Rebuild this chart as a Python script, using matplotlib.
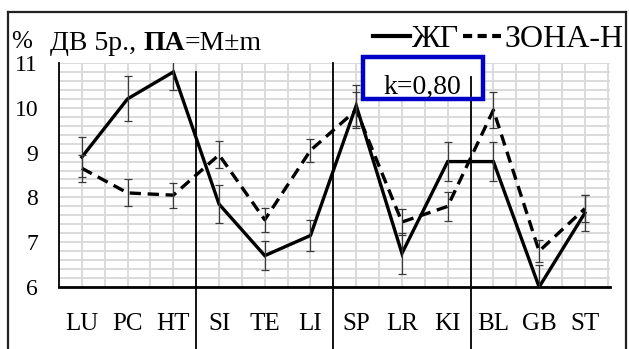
import matplotlib
matplotlib.use("Agg")
import matplotlib.pyplot as plt
import matplotlib.transforms as mtransforms
from matplotlib.lines import Line2D
from matplotlib.patches import Rectangle
import numpy as np

# categories on the x axis
categories = ["LU", "PC", "HT", "SI", "TE", "LI", "SP", "LR", "KI", "BL", "GB", "ST"]

# ЖГ group: mean and standard error
zhg_mean = [8.90, 10.20, 10.80, 7.85, 6.70, 7.15, 10.05, 6.75, 8.80, 8.80, 6.00, 7.65]
zhg_err = [0.45, 0.50, 0.40, 0.42, 0.33, 0.35, 0.45, 0.45, 0.43, 0.43, 0.50, 0.40]

# ЗОНА-Н group: mean and standard error
zona_mean = [8.65, 8.10, 8.05, 8.95, 7.50, 9.05, 9.95, 7.45, 7.80, 9.95, 6.80, 7.75]
zona_err = [0.30, 0.30, 0.28, 0.30, 0.27, 0.25, 0.40, 0.30, 0.33, 0.40, 0.25, 0.30]

y_ticks = [6, 7, 8, 9, 10, 11]
separators = [2.5, 5.5, 8.5]
separator_tops_px = [72, 63, 77]

W, H = 629, 349
SERIF = ["Liberation Serif", "DejaVu Serif"]
plt.rcParams["font.family"] = SERIF


def fx(x):
    return x / W


def fy(y):
    return 1 - y / H


fig = plt.figure(figsize=(W / 100, H / 100), dpi=100)
fig.patch.set_facecolor("white")

left, right, top, bottom = 59, 610, 63, 287
ax = fig.add_axes([fx(left), fy(bottom), fx(right - left), (bottom - top) / H])
ax.set_xlim(-0.5, 11.55)
ax.set_ylim(6, 11)

x = np.arange(len(categories))

# light grid
for gx in np.arange(0, 11.6, 0.5):
    ax.axvline(gx, color="#dadada", lw=1.4, zorder=0)
for gy in np.arange(6.2, 11.01, 0.2):
    ax.axhline(gy, color="#dadada", lw=1.4, zorder=0)

ax.plot(x, zhg_mean, color="black", lw=2.4, solid_joinstyle="miter", zorder=3)
ax.plot(x, zona_mean, color="black", lw=2.4, linestyle=(0, (3.4, 2.0)), zorder=3)
ax.errorbar(x, zhg_mean, yerr=zhg_err, fmt="none", ecolor="#3a3a3a",
            elinewidth=0.9, capsize=3, capthick=0.9, zorder=4)
ax.errorbar(x, zona_mean, yerr=zona_err, fmt="none", ecolor="#3a3a3a",
            elinewidth=0.9, capsize=3, capthick=0.9, zorder=4)

for s in ["top", "right"]:
    ax.spines[s].set_visible(False)
ax.spines["left"].set_linewidth(1.3)
ax.spines["bottom"].set_linewidth(2.0)
ax.spines["left"].set_color("black")
ax.spines["bottom"].set_color("black")

ax.set_yticks(y_ticks)
ax.set_yticklabels([str(v) for v in y_ticks], fontsize=17)
ax.set_xticks(x)
ax.set_xticklabels(categories, fontsize=18)
ax.tick_params(axis="y", length=0, pad=15)
ax.tick_params(axis="x", length=0, pad=19)

# group separators running down through the labels
blend = mtransforms.blended_transform_factory(ax.transData, fig.transFigure)
for sx, top_px in zip(separators, separator_tops_px):
    ax.add_line(Line2D([sx, sx], [fy(top_px), 0], transform=blend,
                       color="black", lw=1.3, clip_on=False, zorder=6))

# outer frame
for xs, ys in [([8, 626], [12, 12]), ([8, 8], [12, 349]), ([626, 626], [12, 349])]:
    fig.add_artist(Line2D([fx(v) for v in xs], [fy(v) for v in ys],
                          color="#222222", lw=1.6))

# title pieces
fig.text(fx(11), fy(48), "%", fontsize=18, va="baseline")
fig.canvas.draw()
r = fig.canvas.get_renderer()
t1 = fig.text(fx(50), fy(50), "ДВ 5р., ", fontsize=20, va="baseline")
bb = t1.get_window_extent(renderer=r)
t2 = fig.text(bb.x1 / W, fy(50), "ПА", fontsize=20, va="baseline", fontweight="bold")
bb = t2.get_window_extent(renderer=r)
fig.text(bb.x1 / W, fy(50), "=M±m", fontsize=20, va="baseline")

# legend
fig.add_artist(Line2D([fx(373), fx(410)], [fy(36), fy(36)], color="black", lw=3))
fig.text(fx(411), fy(47), "ЖГ", fontsize=23, va="baseline")
fig.add_artist(Line2D([fx(463), fx(501)], [fy(36), fy(36)], color="black", lw=3,
                      linestyle=(0, (2.2, 1.3))))
fig.text(fx(504), fy(47), "ЗОНА-Н", fontsize=23, va="baseline")

# correlation box
fig.add_artist(Rectangle((fx(363), fy(99)), fx(483 - 363), (99 - 57) / H,
                         facecolor="white", edgecolor="#0000c8", lw=3.2,
                         zorder=7))
fig.text(fx(422), fy(94), "k=0,80", fontsize=20, ha="center", va="baseline", zorder=8)
fig.add_artist(Line2D([fx(471), fx(471)], [fy(77), fy(96)], color="black", lw=1.3,
                      zorder=8))

fig.savefig("out.png", dpi=100, facecolor="white")
